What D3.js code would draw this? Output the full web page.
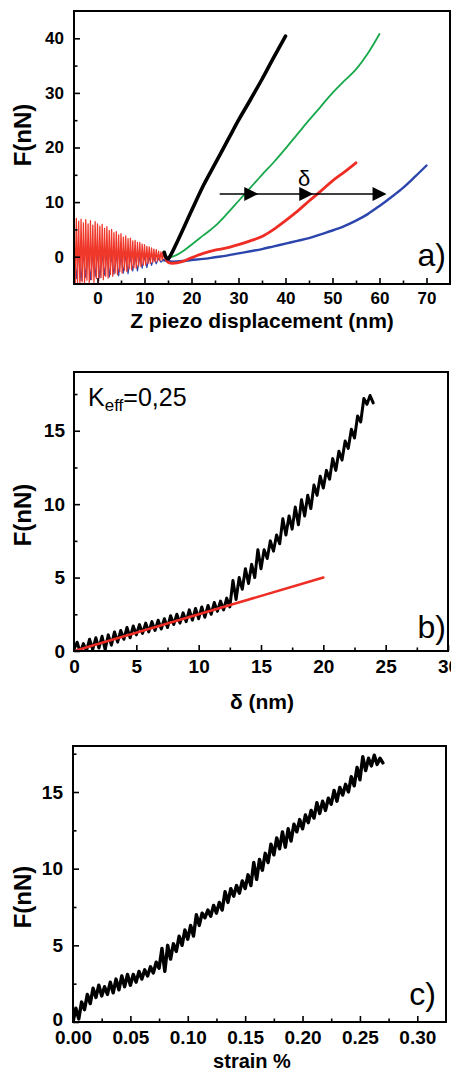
<!DOCTYPE html>
<html><head><meta charset="utf-8">
<script src="https://cdn.jsdelivr.net/npm/d3@7"></script>
<style>
html,body{margin:0;padding:0;background:#fff;}
svg{display:block;}
text{font-family:"Liberation Sans",Arial,sans-serif;}
</style></head>
<body>
<script>
// ---------- Panel a data ----------
const aBlackX = [14.2,14.5,15,15.5,17,20,22.5,25,28,30,32.5,35,37.5,40];
const aBlackY = [0.8,0.0,-0.4,0.2,2.8,8.4,13,17,21.8,25,28.7,32.5,36.5,40.4];
const aGreenX = [14.5,16,18,20,22.5,25,27.5,30,32.5,35,37.5,40,42.5,45,47.5,50,52.5,55,57.5,60];
const aGreenY = [-0.2,0,0.9,2.2,3.9,5.6,7.8,10.2,12.6,15,17.3,19.8,22.4,25,27.5,30,32.2,34.3,37.2,40.8];
const aRedX = [14,15,16,18,20,22.5,25,27.5,30,32.5,35,37.5,40,42.5,45,47.5,50,52.5,55];
const aRedY = [0.6,-1,-1.2,-0.9,-0.2,0.6,1.2,1.6,2.2,2.9,3.7,5.0,6.6,8.3,10.2,12.0,13.9,15.5,17.2];
const aBlueX = [14,16,18,20,22.5,25,27.5,30,32.5,35,37.5,40,42.5,45,47.5,50,52.5,55,57.5,60,62.5,65,67.5,70];
const aBlueY = [-0.6,-0.9,-0.8,-0.6,-0.4,-0.1,0.2,0.6,1.0,1.4,1.9,2.4,2.9,3.4,4.1,4.8,5.6,6.6,7.8,9.3,10.9,12.6,14.6,16.7];
// approach-region oscillation (x from -5 to 14, every 0.25 nm)
const aRedNoiseStart = -5, aRedNoiseStep = 0.25;
const aRedNoise = [6.8,-5.3,7.0,-4.8,6.5,-5.2,6.9,-4.6,6.2,-5.0,6.8,-4.3,6.0,-4.9,6.6,-4.2,5.8,-4.7,6.4,-4.0,
  6.0,-4.5,5.6,-3.8,5.9,-4.2,5.2,-3.6,5.5,-3.9,4.8,-3.3,5.0,-3.6,4.4,-3.0,4.6,-3.3,4.0,-2.7,
  4.2,-3.0,3.6,-2.5,3.8,-2.7,3.3,-2.2,3.4,-2.4,2.9,-2.0,3.0,-2.1,2.6,-1.7,2.6,-1.8,2.3,-1.5,
  2.2,-1.5,1.9,-1.2,1.8,-1.2,1.6,-1.0,1.4,-0.9,1.3,-0.8,1.0,-0.7,0.9,-0.6,0.6];
const aBlueNoiseStart = -5, aBlueNoiseStep = 0.5;
const aBlueNoise = [1.0,-4.0,1.2,-4.4,0.8,-3.8,1.0,-4.2,0.6,-3.6,0.8,-3.9,0.5,-3.4,0.7,-3.7,0.3,-3.2,0.5,-3.5,
  0.2,-3.0,0.4,-3.1,0.1,-2.6,0.2,-2.6,0.0,-2.1,0.1,-2.0,-0.1,-1.6,-0.1,-1.3,-0.3,-1.0,-0.6];
const aArrowY = 11.5, aArrowStart = 26, aArrowTips = [34.2, 45.9, 61.5];
const aXTicks = [0,10,20,30,40,50,60,70];
const aXMinor = [5,15,25,35,45,55,65];
const aYTicks = [0,10,20,30,40];
const aYMinor = [5,15,25,35];

// ---------- Panel b data ----------
const bStart = 0, bStep = 0.25;
const bForce = [0.1,0.6,-0.1,0.5,0.0,0.8,0.1,0.9,0.2,1.0,0.1,1.1,0.4,1.3,0.6,1.4,0.8,1.6,0.9,1.7,
  1.1,1.8,1.2,1.9,1.3,2.0,1.4,2.1,1.5,2.2,1.6,2.4,1.8,2.5,1.9,2.6,2.0,2.8,2.1,2.9,
  2.2,3.0,2.3,3.1,2.5,3.3,2.7,3.4,2.8,3.6,3.0,4.8,3.5,5.0,4.2,5.6,4.6,5.9,5.0,6.9,
  5.6,6.9,6.3,7.5,6.8,7.9,7.3,9.0,7.9,9.2,8.3,9.8,8.6,10.3,9.2,10.6,9.7,11.3,10.6,11.9,
  11.1,12.3,11.7,13.1,12.3,13.6,13.0,14.3,13.8,15.1,14.5,16.0,15.6,17.2,16.8,17.4,16.9];
const bFitX = [0, 20];
const bFitY = [0, 5];
const bXTicks = [0,5,10,15,20,25,30];
const bXMinor = [2.5,7.5,12.5,17.5,22.5,27.5];
const bYTicks = [0,5,10,15];
const bYMinor = [2.5,7.5,12.5,17.5];

// ---------- Panel c data ----------
const cStart = 0, cStep = 0.0025;
const cForce = [0.0,0.9,0.2,1.3,0.8,1.8,1.2,2.2,1.6,2.4,1.7,2.3,1.8,2.6,1.9,2.8,2.1,3.0,2.3,3.1,
  2.4,3.1,2.6,3.3,2.8,3.4,3.0,3.6,3.2,3.9,3.5,4.8,3.3,5.0,4.1,5.1,4.6,5.6,5.0,6.0,
  5.4,6.3,5.6,7.0,6.3,7.1,6.8,7.3,6.9,7.6,7.1,7.8,7.3,8.5,7.8,8.7,8.2,8.9,8.4,9.2,
  8.7,9.6,8.9,10.4,9.3,10.6,9.9,11.0,10.4,11.6,10.9,12.0,11.3,12.4,11.4,12.6,11.8,12.9,12.4,13.2,
  12.6,13.5,13.0,13.8,13.3,14.3,13.6,14.4,13.8,14.6,14.2,15.1,14.4,15.3,14.8,15.5,15.0,16.0,15.4,16.6,
  15.8,17.3,16.4,17.2,16.7,17.4,16.8,17.2,16.9];
const cXTicks = [0,0.05,0.10,0.15,0.20,0.25,0.30];
const cXMinor = [0.025,0.075,0.125,0.175,0.225,0.275];
const cYTicks = [0,5,10,15];
const cYMinor = [2.5,7.5,12.5,17.5];

// ---------- drawing ----------
const W = 451, H = 1074;
const svg = d3.select("body").append("svg").attr("width", W).attr("height", H);
const defs = svg.append("defs");

function panel(cfg){
  const x = d3.scaleLinear().domain(cfg.xd).range([cfg.l, cfg.r]);
  const y = d3.scaleLinear().domain(cfg.yd).range([cfg.b, cfg.t]);
  const id = "clip" + cfg.name;
  defs.append("clipPath").attr("id", id).append("rect")
    .attr("x", cfg.l).attr("y", cfg.t).attr("width", cfg.r - cfg.l).attr("height", cfg.b - cfg.t);
  const g = svg.append("g");
  const plot = g.append("g").attr("clip-path", `url(#${id})`);
  const fmt = cfg.fmt || (d => d);
  g.append("g").attr("transform", `translate(0,${cfg.b})`)
    .call(d3.axisBottom(x).tickValues(cfg.xt).tickSize(-6).tickPadding(cfg.xpad).tickFormat(fmt));
  g.append("g").attr("transform", `translate(0,${cfg.b})`)
    .call(d3.axisBottom(x).tickValues(cfg.xm).tickSize(-3.5).tickFormat(""));
  const ya = g.append("g").attr("transform", `translate(${cfg.l},0)`)
    .call(d3.axisLeft(y).tickValues(cfg.yt).tickSize(-6).tickPadding(cfg.ypad));
  g.append("g").attr("transform", `translate(${cfg.l},0)`)
    .call(d3.axisLeft(y).tickValues(cfg.ym).tickSize(-3.5).tickFormat(""));
  g.selectAll(".domain").remove();
  g.selectAll(".tick line").attr("stroke", "#000").attr("stroke-width", 1.6);
  g.selectAll(".tick text").attr("font-family", "'Liberation Sans', Arial, sans-serif")
    .attr("font-weight", "bold").attr("font-size", cfg.tfs).attr("fill", "#000");
  if (cfg.liftZero) ya.selectAll(".tick text").filter(d => d === 0).attr("dy", "0.18em");
  g.append("rect").attr("x", cfg.l).attr("y", cfg.t).attr("width", cfg.r - cfg.l).attr("height", cfg.b - cfg.t)
    .attr("fill", "none").attr("stroke", "#000").attr("stroke-width", 2);
  return {x, y, g, plot};
}

function drawLine(p, xs, ys, color, w, curve){
  const pts = xs.map((v, i) => [v, ys[i]]);
  p.plot.append("path").datum(pts)
    .attr("d", d3.line().curve(curve || d3.curveLinear).x(d => p.x(d[0])).y(d => p.y(d[1])))
    .attr("fill", "none").attr("stroke", color).attr("stroke-width", w)
    .attr("stroke-linejoin", "round").attr("stroke-linecap", "round");
}
function sampled(start, step, arr){ return arr.map((v, i) => start + i * step); }

const RED = "#ee2d24", GREEN = "#17a84a", BLUE = "#2b45ad", BLACK = "#000";
const SMOOTH = d3.curveMonotoneX;

// Panel a
const pa = panel({name:"a", xd:[-5,75], yd:[-5,45], l:74, r:450, t:11, b:284,
  xt:aXTicks, xm:aXMinor, yt:aYTicks, ym:aYMinor, xpad:8, ypad:10, tfs:17});
drawLine(pa, sampled(aBlueNoiseStart, aBlueNoiseStep, aBlueNoise), aBlueNoise, BLUE, 1.2);
drawLine(pa, aBlueX, aBlueY, BLUE, 2.4, SMOOTH);
drawLine(pa, sampled(aRedNoiseStart, aRedNoiseStep, aRedNoise), aRedNoise, "#f0382a", 1.3);
drawLine(pa, aRedX, aRedY, RED, 2.8, SMOOTH);
drawLine(pa, aGreenX, aGreenY, GREEN, 1.8, SMOOTH);
drawLine(pa, aBlackX, aBlackY, BLACK, 3.6, SMOOTH);
const ay = pa.y(aArrowY);
pa.g.append("line").attr("x1", pa.x(aArrowStart)).attr("x2", pa.x(aArrowTips[aArrowTips.length-1]) - 4)
  .attr("y1", ay).attr("y2", ay).attr("stroke", "#000").attr("stroke-width", 1.5);
aArrowTips.forEach(t => {
  const tx = pa.x(t);
  pa.g.append("path").attr("d", `M${tx},${ay} L${tx-14},${ay-7} L${tx-14},${ay+7} Z`).attr("fill", "#000");
});
pa.g.append("text").attr("x", 304).attr("y", 186).attr("text-anchor", "middle")
  .attr("font-size", 22).text("δ");
pa.g.append("text").attr("x", 446).attr("y", 266).attr("text-anchor", "end")
  .attr("font-size", 32).text("a)");
pa.g.append("text").attr("x", 262).attr("y", 328).attr("text-anchor", "middle")
  .attr("font-size", 21).attr("font-weight", "bold").text("Z piezo displacement (nm)");
pa.g.append("text").attr("transform", "translate(31,135) rotate(-90)").attr("text-anchor", "middle")
  .attr("font-size", 24).attr("font-weight", "bold").text("F(nN)");

// Panel b
const pb = panel({name:"b", xd:[0,30], yd:[0,19], l:74, r:448, t:372, b:651,
  xt:bXTicks, xm:bXMinor, yt:bYTicks, ym:bYMinor, xpad:9, ypad:9, tfs:19});
drawLine(pb, sampled(bStart, bStep, bForce), bForce, BLACK, 3);
drawLine(pb, bFitX, bFitY, RED, 2.6);
const kt = pb.g.append("text").attr("x", 88).attr("y", 406).attr("font-size", 25);
kt.append("tspan").text("K");
kt.append("tspan").attr("font-size", 17).attr("dy", 5).text("eff");
kt.append("tspan").attr("dy", -5).text("=0,25");
pb.g.append("text").attr("x", 446).attr("y", 638).attr("text-anchor", "end")
  .attr("font-size", 32).text("b)");
pb.g.append("text").attr("x", 262).attr("y", 709).attr("text-anchor", "middle")
  .attr("font-size", 21).attr("font-weight", "bold").text("δ (nm)");
pb.g.append("text").attr("transform", "translate(31,515) rotate(-90)").attr("text-anchor", "middle")
  .attr("font-size", 24).attr("font-weight", "bold").text("F(nN)");

// Panel c
const pc = panel({name:"c", xd:[0,0.325], yd:[0,18], l:73, r:446, t:746, b:1022,
  xt:cXTicks, xm:cXMinor, yt:cYTicks, ym:cYMinor, xpad:9, ypad:10, tfs:19, fmt:d3.format(".2f"), liftZero:true});
drawLine(pc, sampled(cStart, cStep, cForce), cForce, BLACK, 3.4);
pc.g.append("text").attr("x", 436).attr("y", 1005).attr("text-anchor", "end")
  .attr("font-size", 32).text("c)");
pc.g.append("text").attr("x", 252).attr("y", 1068).attr("text-anchor", "middle")
  .attr("font-size", 20).attr("font-weight", "bold").text("strain %");
pc.g.append("text").attr("transform", "translate(31,897) rotate(-90)").attr("text-anchor", "middle")
  .attr("font-size", 24).attr("font-weight", "bold").text("F(nN)");
</script>
</body></html>
